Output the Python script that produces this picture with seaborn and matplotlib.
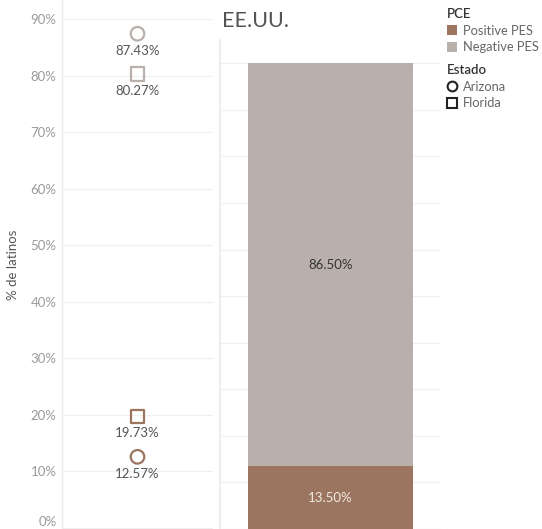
import numpy as np
import pandas as pd
import matplotlib
matplotlib.use("Agg")
import matplotlib.pyplot as plt
import seaborn as sns
from matplotlib.lines import Line2D
from matplotlib.patches import Patch

# ---- data ----
estados = ["Arizona", "Arizona", "Florida", "Florida"]
pce_pts = ["Positive PES", "Negative PES", "Positive PES", "Negative PES"]
valores_pts = [12.57, 87.43, 19.73, 80.27]
pce_cats = ["Positive PES", "Negative PES"]
valores_eeuu = [13.50, 86.50]
region = "EE.UU."
yticks = [0, 10, 20, 30, 40, 50, 60, 70, 80, 90]
ytick_labels = [f"{t}%" for t in yticks]

colores = {"Positive PES": "#9b7560", "Negative PES": "#bab0ab"}

sns.set_theme(style="white")
plt.rcParams["font.family"] = ["Lato", "DejaVu Sans"]

fig = plt.figure(figsize=(5.42, 5.29), dpi=100)
W, H = 542, 529
ax1 = fig.add_axes([62 / W, 0, (213 - 62) / W, 1])
ax2 = fig.add_axes([220 / W, 0, 221 / W, (H - 40) / H])

# ---- left panel: points ----
df_pts = pd.DataFrame({"x": ["Estados"] * 4, "valor": valores_pts,
                       "PCE": pce_pts, "Estado": estados})
sns.scatterplot(data=df_pts, x="x", y="valor", hue="PCE", style="Estado",
                hue_order=pce_cats, palette=colores,
                markers={"Arizona": "o", "Florida": "s"},
                s=95, linewidth=1.6, legend=False, ax=ax1)
for coll in ax1.collections:
    fc = coll.get_facecolors()
    coll.set_edgecolors(fc)
    coll.set_facecolors("none")

for v in valores_pts:
    ax1.annotate(f"{v:.2f}%", (0, v), xytext=(0, -12.3), textcoords="offset points",
                 ha="center", va="center", fontsize=9.5, color="#555555")

ax1.set_xlim(-0.5, 0.5)
ax1.set_ylim(-0.2, 93.4)
ax1.set_yticks(yticks)
ax1.set_yticklabels(ytick_labels)
ax1.tick_params(axis="y", length=0, pad=4, labelsize=9.5, labelcolor="#9a9a9a")
ax1.get_yticklabels()[0].set_va("bottom")
ax1.set_xticks([])
ax1.set_xlabel("")
ax1.set_ylabel("% de latinos", fontsize=9.5, color="#555555", labelpad=8)
ax1.grid(axis="y", color="#f0f0f0", lw=1)
ax1.grid(axis="x", visible=False)
for s in ["top", "right", "bottom"]:
    ax1.spines[s].set_visible(False)
ax1.spines["left"].set_color("#ebebeb")
ax1.spines["left"].set_linewidth(1)

# ---- right panel: stacked bar ----
sns.barplot(x=[region], y=[valores_eeuu[0]], color=colores["Positive PES"],
            saturation=1, width=0.75, linewidth=0, ax=ax2)
sns.barplot(x=[region], y=[valores_eeuu[1]], bottom=[valores_eeuu[0]],
            color=colores["Negative PES"], saturation=1, width=0.75,
            linewidth=0, ax=ax2)
ax2.text(0, valores_eeuu[0] / 2, f"{valores_eeuu[0]:.2f}%", ha="center", va="center",
         fontsize=9.5, color="#f2e9e3")
ax2.text(0, valores_eeuu[0] + valores_eeuu[1] / 2, f"{valores_eeuu[1]:.2f}%",
         ha="center", va="center", fontsize=9.5, color="#333333")
ax2.set_xlim(-0.5, 0.5)
ax2.set_ylim(0, 105)
ax2.set_yticks(list(range(0, 101, 10)))
ax2.set_yticklabels([])
ax2.tick_params(length=0)
ax2.set_xticks([])
ax2.set_xlabel("")
ax2.set_ylabel("")
ax2.grid(axis="y", color="#f0f0f0", lw=1)
ax2.set_axisbelow(True)
for s in ["top", "right", "bottom"]:
    ax2.spines[s].set_visible(False)
ax2.spines["left"].set_color("#ebebeb")

fig.text(222 / W, 1 - 21 / H, region, ha="left", va="center", fontsize=15.5,
         color="#555555", fontweight="normal")

# ---- legends ----
h1 = [Patch(facecolor=colores[c], edgecolor="none", label=c) for c in pce_cats]
leg1 = fig.legend(handles=h1, title="PCE", loc="upper left",
                  bbox_to_anchor=(447 / W, 1 - 8 / H), frameon=False,
                  alignment="left", handlelength=0.8, handleheight=0.8,
                  handletextpad=0.45, labelspacing=0.36, borderpad=0,
                  borderaxespad=0, fontsize=9.3, title_fontsize=9.5,
                  labelcolor="#666666")
leg1.get_title().set_color("#333333")
leg1.get_title().set_fontweight("semibold")

h2 = [Line2D([], [], marker=m, ls="none", markerfacecolor="none",
             markeredgecolor="#222222", markeredgewidth=1.5, markersize=7, label=l)
      for m, l in [("o", "Arizona"), ("s", "Florida")]]
leg2 = fig.legend(handles=h2, title="Estado", loc="upper left",
                  bbox_to_anchor=(447 / W, 1 - 64 / H), frameon=False,
                  alignment="left", handlelength=0.8, handletextpad=0.45,
                  labelspacing=0.36, borderpad=0, borderaxespad=0,
                  fontsize=9.3, title_fontsize=9.5, labelcolor="#666666")
leg2.get_title().set_color("#333333")
leg2.get_title().set_fontweight("semibold")

fig.savefig("out.png", dpi=100)
